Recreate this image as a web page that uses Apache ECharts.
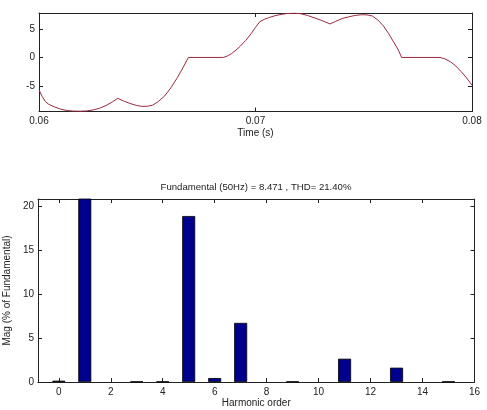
<!DOCTYPE html>
<html>
<head>
<meta charset="utf-8">
<script src="https://cdn.jsdelivr.net/npm/echarts@6/dist/echarts.min.js"></script>
<style>
html,body{margin:0;padding:0;background:#fff;}
#c{width:487px;height:410px;}
</style>
</head>
<body>
<div id="c"></div>
<script>
// Top plot: waveform (time in s, value)
const timeValues = [
  0.06000, 0.06015, 0.06030, 0.06045, 0.06070, 0.06100, 0.06130, 0.06160, 0.06190, 0.06220, 0.06250, 0.06280, 0.06310, 0.06340, 0.06364,
  0.06390, 0.06420, 0.06450, 0.06475, 0.06500, 0.06525, 0.06550, 0.06580, 0.06610, 0.06640, 0.06665, 0.06690,
  0.06851, 0.06870, 0.06890, 0.06910, 0.06930, 0.06955, 0.06980, 0.07000, 0.07020, 0.07040, 0.07060, 0.07090, 0.07120, 0.07150, 0.07180, 0.07210, 0.07240, 0.07270, 0.07300, 0.07344,
  0.07370, 0.07400, 0.07430, 0.07460, 0.07490, 0.07515, 0.07540, 0.07565, 0.07590, 0.07615, 0.07640, 0.07660, 0.07675,
  0.07852, 0.07875, 0.07900, 0.07925, 0.07950, 0.07975, 0.08000
];
const waveValues = [
  -5.7, -6.9, -7.8, -8.25, -8.7, -9.1, -9.35, -9.45, -9.47, -9.42, -9.25, -8.95, -8.45, -7.8, -7.2,
  -7.65, -8.1, -8.45, -8.62, -8.6, -8.4, -7.8, -6.8, -5.3, -3.5, -1.8, 0,
  0, 0.25, 0.7, 1.3, 2.0, 3.0, 4.2, 5.3, 6.3, 6.7, 7.0, 7.35, 7.6, 7.75, 7.8, 7.7, 7.4, 7.0, 6.6, 5.9,
  6.35, 6.85, 7.15, 7.4, 7.52, 7.5, 7.3, 6.6, 5.6, 4.2, 2.6, 1.3, 0,
  0, -0.25, -0.75, -1.5, -2.5, -3.6, -4.9
];
const timeTicks = [0.06, 0.07, 0.08];
const waveTicks = [-5, 0, 5];

// Bottom plot: harmonic spectrum
const harmonicOrders = [0, 1, 2, 3, 4, 5, 6, 7, 8, 9, 10, 11, 12, 13, 14, 15];
const harmonicMags = [0.15, 100, 0, 0.05, 0.05, 18.9, 0.45, 6.73, 0, 0.05, 0, 2.65, 0, 1.63, 0, 0.05];
const harmonicTicks = [0, 2, 4, 6, 8, 10, 12, 14, 16];
const magTicks = [0, 5, 10, 15, 20];

const titleText = 'Fundamental (50Hz) = 8.471 , THD= 21.40%';

const FONT = 'Liberation Sans, Arial, sans-serif';
const TXT = '#222';
const LINE = '#222';

function mainX(grid, min, max, ticks, fmt, name, gap) {
  return {
    type: 'value', gridIndex: grid, position: 'bottom', min: min, max: max,
    name: name, nameLocation: 'middle', nameGap: gap,
    nameTextStyle: {color: TXT, fontSize: 10, fontFamily: FONT},
    axisLine: {show: true, onZero: false, lineStyle: {color: LINE, width: 1}},
    axisTick: {show: true, inside: true, length: 4, customValues: ticks, lineStyle: {color: LINE}},
    axisLabel: {show: true, customValues: ticks, formatter: fmt, color: TXT, fontSize: 10, fontFamily: FONT, margin: 5},
    splitLine: {show: false}
  };
}
function mirrorX(grid, min, max, ticks) {
  return {
    type: 'value', gridIndex: grid, position: 'top', min: min, max: max,
    axisLine: {show: true, onZero: false, lineStyle: {color: LINE, width: 1}},
    axisTick: {show: true, inside: true, length: 4, customValues: ticks, lineStyle: {color: LINE}},
    axisLabel: {show: false},
    splitLine: {show: false}
  };
}
function mainY(grid, min, max, ticks, name, gap) {
  return {
    type: 'value', gridIndex: grid, position: 'left', min: min, max: max,
    name: name, nameLocation: 'middle', nameGap: gap, nameRotate: 90,
    nameTextStyle: {color: TXT, fontSize: 10, fontFamily: FONT},
    axisLine: {show: true, onZero: false, lineStyle: {color: LINE, width: 1}},
    axisTick: {show: true, inside: true, length: 4, customValues: ticks, lineStyle: {color: LINE}},
    axisLabel: {show: true, customValues: ticks, color: TXT, fontSize: 10, fontFamily: FONT, margin: 4},
    splitLine: {show: false}
  };
}
function mirrorY(grid, min, max, ticks) {
  return {
    type: 'value', gridIndex: grid, position: 'right', min: min, max: max,
    axisLine: {show: true, onZero: false, lineStyle: {color: LINE, width: 1}},
    axisTick: {show: true, inside: true, length: 4, customValues: ticks, lineStyle: {color: LINE}},
    axisLabel: {show: false},
    splitLine: {show: false}
  };
}

const chart = echarts.init(document.getElementById('c'), null, {renderer: 'canvas'});
chart.setOption({
  animation: false,
  backgroundColor: '#ffffff',
  textStyle: {fontFamily: FONT},
  grid: [
    {left: 39, top: 13, width: 433, height: 98.5, containLabel: false, outerBoundsMode: 'none'},
    {left: 38, top: 199, width: 436.5, height: 183, containLabel: false, outerBoundsMode: 'none'}
  ],
  graphic: [{
    type: 'text', x: 256, y: 187,
    style: {text: titleText, textAlign: 'center', textVerticalAlign: 'middle', fill: TXT, font: '9.6px ' + FONT}
  }],
  xAxis: [
    mainX(0, 0.06, 0.08, timeTicks, v => v.toFixed(2), 'Time (s)', 17),
    mirrorX(0, 0.06, 0.08, timeTicks),
    mainX(1, -0.8, 16, harmonicTicks, v => String(Math.round(v)), 'Harmonic order', 16),
    mirrorX(1, -0.8, 16, harmonicTicks)
  ],
  yAxis: [
    mainY(0, -9.52, 7.83, waveTicks, '', 20),
    mirrorY(0, -9.52, 7.83, waveTicks),
    mainY(1, 0, 20.84, magTicks, 'Mag (% of Fundamental)', 16),
    mirrorY(1, 0, 20.84, magTicks)
  ],
  series: [
    {
      type: 'line', xAxisIndex: 0, yAxisIndex: 0, symbol: 'none', smooth: false,
      data: timeValues.map((t, i) => [t, waveValues[i]]),
      lineStyle: {color: '#9a2a3c', width: 1}
    },
    {
      type: 'bar', xAxisIndex: 2, yAxisIndex: 2, barWidth: 13, clip: true,
      data: harmonicOrders.map((h, i) => harmonicMags[i] === 0
        ? {value: [h, harmonicMags[i]], itemStyle: {borderWidth: 0}}
        : {value: [h, harmonicMags[i]]}),
      itemStyle: {color: '#00008f', borderColor: '#000000', borderWidth: 0.8}
    }
  ]
});
</script>
</body>
</html>
